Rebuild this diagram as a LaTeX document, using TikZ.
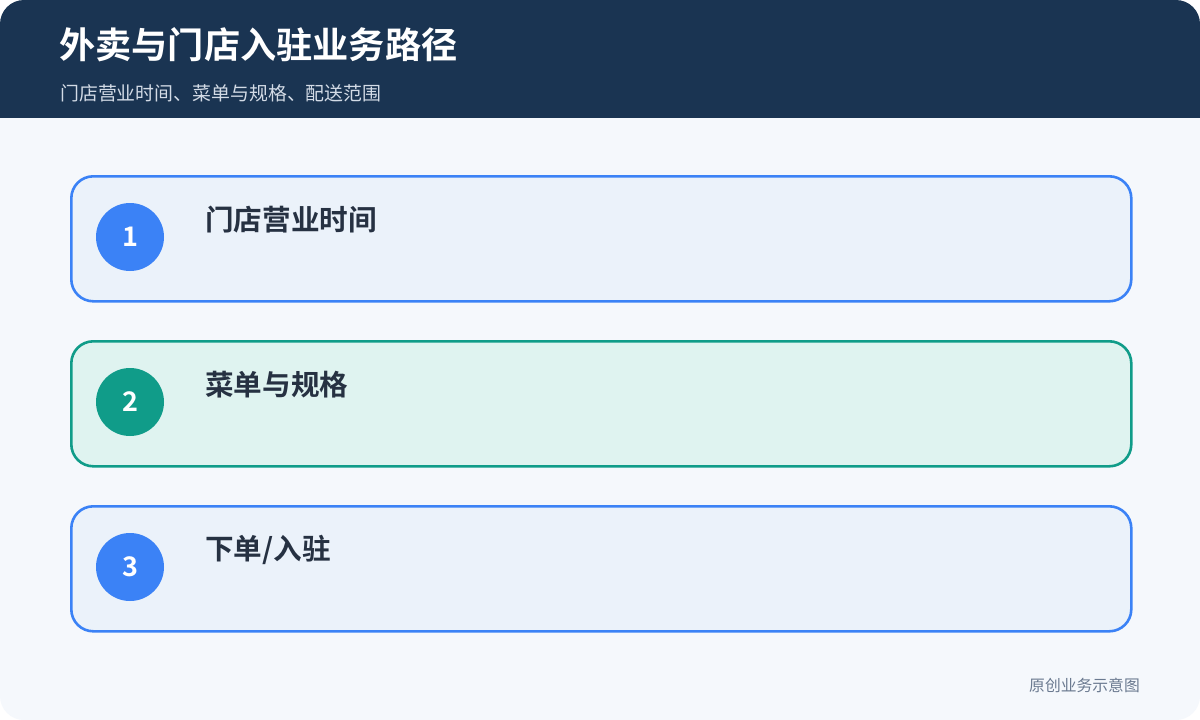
\documentclass[tikz,border=0pt]{standalone}
\usepackage{fontspec}
\setmainfont{Noto Sans CJK SC}
\newfontfamily\cjkb{Noto Sans CJK SC Bold}
\definecolor{hdr}{HTML}{1A3452}
\definecolor{bg}{HTML}{F5F8FC}
\definecolor{bluebd}{HTML}{3B82F6}
\definecolor{bluefill}{HTML}{EBF2FA}
\definecolor{greenbd}{HTML}{109C89}
\definecolor{greenfill}{HTML}{DFF3F0}
\definecolor{txt}{HTML}{263142}
\definecolor{subt}{HTML}{D3DBE6}
\definecolor{foot}{HTML}{6B7A90}
\tikzset{
  card/.style={draw=#1bd, fill=#1fill, line width=2.6pt, rounded corners=22pt,
    minimum width=1060pt, minimum height=125pt, inner sep=0pt, anchor=north west},
  badge/.style={circle, fill=#1bd, minimum size=68pt, inner sep=0pt,
    text=white, font=\cjkb\fontsize{27}{30}\selectfont},
  cardtitle/.style={anchor=west, inner sep=0pt, text=txt, font=\cjkb\fontsize{28.6}{32}\selectfont},
}
\begin{document}
\begin{tikzpicture}[x=1pt,y=-1pt]
\useasboundingbox (0,0) rectangle (1200,720);
\fill[white] (0,0) rectangle (1200,720);
\begin{scope}
\clip[rounded corners=24pt] (0,0) rectangle (1200,720);
\fill[bg] (0,0) rectangle (1200,720);
\fill[hdr] (0,0) rectangle (1200,118);
\end{scope}
\node[anchor=west, inner sep=0pt, text=white, font=\cjkb\fontsize{36.2}{40}\selectfont] (title) at (59,45) {外卖与门店入驻业务路径};
\node[anchor=west, inner sep=0pt, text=subt, font=\fontsize{18.9}{22}\selectfont] (sub) at (60,93) {门店营业时间、菜单与规格、配送范围};

\node[card=blue] (c1) at (70,175) {};
\node[card=green] (c2) at (70,340) {};
\node[card=blue] (c3) at (70,505) {};

\node[badge=blue] (b1) at (130,237) {1};
\node[badge=green] (b2) at (130,402) {2};
\node[badge=blue] (b3) at (130,567) {3};

\node[cardtitle] (t1) at (205,220) {门店营业时间};
\node[cardtitle] (t2) at (205,385) {菜单与规格};
\node[cardtitle] (t3) at (205,550) {下单/入驻};

\node[anchor=east, inner sep=0pt, text=foot, font=\fontsize{15.8}{19}\selectfont] (ft) at (1140,685) {原创业务示意图};
\end{tikzpicture}
\end{document}
